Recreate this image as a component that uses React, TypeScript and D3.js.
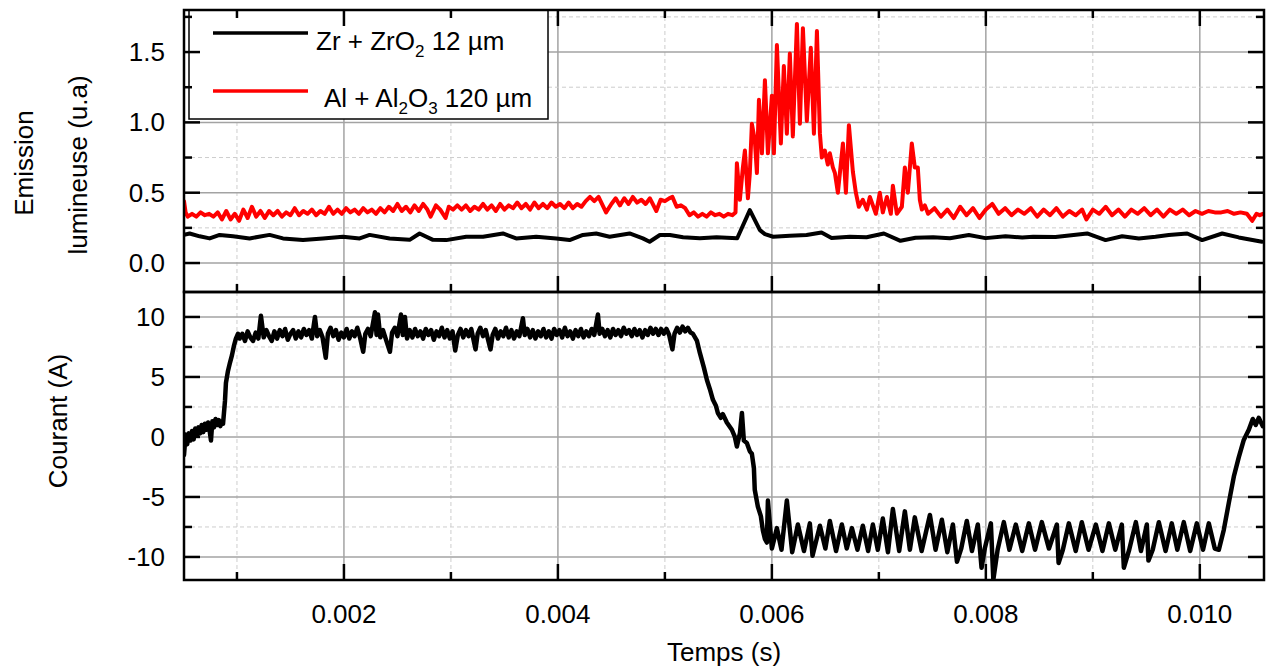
import React from 'react';
import * as d3 from 'd3';

const W = 1269;
const H = 668;

// ---- axis ticks ----
const xTickValues = [0.002, 0.004, 0.006, 0.008, 0.01];
const xMinorTickValues = [0.001, 0.003, 0.005, 0.007, 0.009];
const topYTicks = [0, 0.5, 1.0, 1.5];
const topYMinorTicks = [0.25, 0.75, 1.25, 1.75];
const botYTicks = [-10, -5, 0, 5, 10];
const botYMinorTicks = [-7.5, -2.5, 2.5, 7.5];

// ---- data: [time (ms), value] ----
const emissionZr: [number, number][] = [
  [0.505, 0.2], [0.558, 0.21], [0.651, 0.19], [0.745, 0.175], [0.838, 0.2], [0.963, 0.19],
  [1.118, 0.175], [1.305, 0.2], [1.43, 0.175], [1.617, 0.163], [1.804, 0.175], [1.99, 0.187],
  [2.147, 0.175], [2.24, 0.2], [2.427, 0.175], [2.614, 0.165], [2.707, 0.21], [2.832, 0.165],
  [2.956, 0.163], [3.143, 0.187], [3.3, 0.187], [3.486, 0.21], [3.61, 0.175], [3.797, 0.187],
  [3.984, 0.175], [4.109, 0.163], [4.234, 0.2], [4.358, 0.21], [4.483, 0.187], [4.67, 0.21],
  [4.794, 0.175], [4.857, 0.151], [4.953, 0.199], [5.047, 0.199], [5.17, 0.183], [5.327, 0.176],
  [5.483, 0.183], [5.676, 0.176], [5.794, 0.376], [5.888, 0.234], [5.935, 0.206], [6.012, 0.187],
  [6.168, 0.194], [6.324, 0.199], [6.464, 0.217], [6.558, 0.178], [6.729, 0.187], [6.885, 0.183],
  [7.047, 0.21], [7.202, 0.158], [7.343, 0.18], [7.508, 0.183], [7.664, 0.176], [7.841, 0.199],
  [7.997, 0.177], [8.184, 0.19], [8.34, 0.182], [8.442, 0.187], [8.651, 0.185], [8.947, 0.21],
  [9.119, 0.163], [9.274, 0.19], [9.43, 0.175], [9.586, 0.187], [9.71, 0.2], [9.882, 0.21],
  [10.022, 0.163], [10.209, 0.21], [10.364, 0.182], [10.582, 0.151],
];

const emissionAl: [number, number][] = [
  [0.505, 0.44], [0.52, 0.36], [0.54, 0.33], [0.58, 0.35], [0.62, 0.33], [0.66, 0.36], [0.7, 0.34],
  [0.74, 0.35], [0.78, 0.33], [0.82, 0.36], [0.86, 0.31], [0.9, 0.37], [0.94, 0.31], [0.98, 0.35],
  [1.02, 0.3], [1.06, 0.38], [1.1, 0.32], [1.14, 0.4], [1.18, 0.33], [1.22, 0.37], [1.26, 0.32],
  [1.3, 0.37], [1.34, 0.34], [1.38, 0.37], [1.42, 0.33], [1.46, 0.36], [1.5, 0.34], [1.54, 0.39],
  [1.58, 0.34], [1.62, 0.37], [1.66, 0.35], [1.7, 0.38], [1.74, 0.34], [1.78, 0.37], [1.82, 0.35],
  [1.86, 0.4], [1.9, 0.35], [1.94, 0.38], [1.98, 0.35], [2.02, 0.39], [2.06, 0.36], [2.1, 0.38],
  [2.14, 0.35], [2.18, 0.39], [2.22, 0.36], [2.26, 0.38], [2.3, 0.35], [2.34, 0.39], [2.38, 0.36],
  [2.42, 0.4], [2.46, 0.37], [2.5, 0.42], [2.54, 0.37], [2.58, 0.4], [2.62, 0.36], [2.66, 0.41],
  [2.7, 0.37], [2.74, 0.42], [2.78, 0.38], [2.81, 0.33], [2.86, 0.41], [2.9, 0.38], [2.95, 0.32],
  [2.98, 0.4], [3.02, 0.38], [3.06, 0.41], [3.1, 0.38], [3.14, 0.41], [3.18, 0.37], [3.22, 0.4],
  [3.26, 0.38], [3.3, 0.42], [3.34, 0.38], [3.38, 0.41], [3.42, 0.37], [3.46, 0.42], [3.5, 0.38],
  [3.54, 0.41], [3.58, 0.39], [3.62, 0.43], [3.66, 0.39], [3.7, 0.42], [3.74, 0.38], [3.78, 0.43],
  [3.82, 0.39], [3.86, 0.42], [3.9, 0.39], [3.94, 0.43], [3.98, 0.4], [4.02, 0.42], [4.06, 0.39],
  [4.1, 0.43], [4.14, 0.39], [4.18, 0.42], [4.22, 0.4], [4.26, 0.44], [4.3, 0.47], [4.34, 0.44],
  [4.38, 0.47], [4.45, 0.36], [4.5, 0.42], [4.54, 0.46], [4.58, 0.41], [4.62, 0.46], [4.66, 0.42],
  [4.7, 0.47], [4.74, 0.43], [4.78, 0.45], [4.82, 0.42], [4.86, 0.46], [4.92, 0.37], [4.96, 0.45],
  [5.0, 0.44], [5.04, 0.46], [5.07, 0.47], [5.11, 0.4], [5.15, 0.41], [5.19, 0.39], [5.23, 0.34],
  [5.27, 0.36], [5.31, 0.33], [5.35, 0.35], [5.39, 0.33], [5.43, 0.36], [5.47, 0.34], [5.51, 0.35],
  [5.55, 0.33], [5.59, 0.35], [5.63, 0.34], [5.66, 0.36],
  [5.673, 0.71], [5.701, 0.45], [5.729, 0.68], [5.748, 0.8], [5.776, 0.46], [5.794, 0.64],
  [5.813, 0.99], [5.841, 0.87], [5.86, 0.64], [5.879, 1.16], [5.907, 0.78], [5.935, 1.3],
  [5.963, 0.78], [6.0, 1.19], [6.019, 0.78], [6.047, 1.55], [6.084, 0.85], [6.112, 1.4],
  [6.14, 0.92], [6.168, 1.49], [6.196, 0.9], [6.234, 1.7], [6.262, 0.99], [6.29, 1.67],
  [6.327, 1.01], [6.364, 1.53], [6.393, 0.92], [6.421, 1.65], [6.449, 0.92], [6.467, 0.75],
  [6.495, 0.8], [6.523, 0.7], [6.542, 0.78], [6.57, 0.68], [6.589, 0.64], [6.617, 0.5],
  [6.664, 0.85], [6.692, 0.5], [6.72, 0.98], [6.757, 0.65], [6.785, 0.5], [6.813, 0.4],
  [6.85, 0.45], [6.888, 0.38], [6.916, 0.47], [6.944, 0.41], [6.972, 0.35], [7.009, 0.5],
  [7.037, 0.36], [7.075, 0.47], [7.112, 0.35], [7.131, 0.55], [7.168, 0.35], [7.215, 0.4],
  [7.243, 0.68], [7.271, 0.5], [7.308, 0.85], [7.336, 0.68], [7.364, 0.68], [7.383, 0.45],
  [7.402, 0.38], [7.43, 0.41],
  [7.46, 0.35], [7.52, 0.39], [7.58, 0.33], [7.64, 0.38], [7.7, 0.32], [7.76, 0.4], [7.82, 0.34],
  [7.88, 0.39], [7.94, 0.32], [8.0, 0.38], [8.06, 0.42], [8.12, 0.35], [8.18, 0.39], [8.24, 0.34],
  [8.3, 0.38], [8.36, 0.35], [8.42, 0.39], [8.48, 0.33], [8.54, 0.38], [8.6, 0.34], [8.66, 0.39],
  [8.72, 0.33], [8.78, 0.37], [8.84, 0.34], [8.9, 0.38], [8.94, 0.31], [9.0, 0.38], [9.06, 0.35],
  [9.12, 0.4], [9.18, 0.34], [9.24, 0.38], [9.3, 0.33], [9.36, 0.38], [9.42, 0.35], [9.48, 0.39],
  [9.54, 0.34], [9.6, 0.38], [9.66, 0.33], [9.72, 0.38], [9.78, 0.35], [9.84, 0.38], [9.9, 0.34],
  [9.96, 0.37], [10.02, 0.35], [10.08, 0.37], [10.14, 0.36], [10.2, 0.36], [10.26, 0.37],
  [10.32, 0.35], [10.38, 0.36], [10.44, 0.35], [10.49, 0.3], [10.53, 0.35], [10.56, 0.34],
  [10.59, 0.35],
];

const courant: [number, number][] = [
  [0.505, -1.5], [0.52, 0.2], [0.535, -0.6], [0.55, 0.3], [0.565, -0.3], [0.58, 0.5], [0.595, -0.2],
  [0.61, 0.7], [0.625, 0.1], [0.64, 0.8], [0.655, 0.3], [0.67, 1.0], [0.685, 0.4], [0.7, 1.1],
  [0.715, 0.6], [0.73, 1.2], [0.745, 0.5], [0.757, -0.3], [0.77, 1.3], [0.785, 0.8], [0.8, 1.5],
  [0.815, 1.0], [0.83, 1.4], [0.845, 0.9], [0.86, 1.3], [0.87, 1.1], [0.888, 3.0], [0.897, 4.5],
  [0.916, 5.5], [0.935, 6.2], [0.953, 6.8], [0.972, 7.6], [0.99, 8.2], [1.01, 8.6],
  [1.025, 8.2], [1.05, 8.6], [1.075, 8.0], [1.1, 8.8], [1.125, 8.3], [1.15, 8.0], [1.175, 8.7],
  [1.2, 8.2], [1.224, 10.1], [1.25, 8.3], [1.275, 8.9], [1.3, 8.4], [1.325, 8.0], [1.35, 8.8],
  [1.375, 8.2], [1.4, 8.9], [1.425, 8.4], [1.45, 9.0], [1.475, 8.1], [1.5, 8.6], [1.525, 8.9],
  [1.55, 8.2], [1.575, 8.8], [1.6, 8.3], [1.625, 9.0], [1.65, 8.5], [1.675, 8.9], [1.7, 8.2],
  [1.729, 10.0], [1.75, 8.4], [1.775, 8.9], [1.8, 8.3], [1.83, 6.6], [1.85, 8.6], [1.875, 9.1],
  [1.9, 8.4], [1.925, 8.9], [1.95, 8.1], [1.975, 8.7], [2.0, 8.3], [2.025, 9.0], [2.05, 8.2],
  [2.075, 8.8], [2.1, 8.4], [2.125, 9.1], [2.15, 8.3], [2.18, 7.1], [2.2, 8.6], [2.225, 9.0],
  [2.25, 8.4], [2.29, 10.4], [2.305, 8.5], [2.318, 10.2], [2.34, 8.3], [2.365, 8.9], [2.39, 8.2],
  [2.43, 7.1], [2.45, 8.7], [2.475, 9.1], [2.5, 8.4], [2.533, 10.2], [2.55, 8.5], [2.57, 10.0],
  [2.59, 8.2], [2.615, 8.9], [2.64, 8.3], [2.665, 9.0], [2.69, 8.4], [2.715, 8.8], [2.74, 8.2],
  [2.765, 9.0], [2.79, 8.5], [2.815, 8.9], [2.84, 8.1], [2.865, 8.8], [2.89, 8.4], [2.915, 9.1],
  [2.94, 8.3], [2.965, 8.9], [2.99, 8.2], [3.015, 8.8], [3.04, 7.2], [3.065, 8.5], [3.09, 9.0],
  [3.115, 8.3], [3.14, 8.9], [3.165, 8.4], [3.19, 9.0], [3.23, 7.3], [3.25, 8.6], [3.275, 9.1],
  [3.3, 8.4], [3.325, 8.9], [3.37, 7.3], [3.39, 8.5], [3.415, 9.0], [3.44, 8.2], [3.465, 8.8],
  [3.49, 8.4], [3.515, 9.1], [3.54, 8.3], [3.565, 8.9], [3.59, 8.2], [3.615, 8.8], [3.64, 8.4],
  [3.673, 9.9], [3.69, 8.5], [3.715, 9.0], [3.74, 8.3], [3.765, 8.9], [3.79, 8.2], [3.815, 8.8],
  [3.84, 8.4], [3.865, 9.0], [3.89, 8.3], [3.915, 8.8], [3.94, 8.2], [3.965, 9.0], [3.99, 8.5],
  [4.015, 8.9], [4.04, 8.3], [4.065, 9.1], [4.09, 8.4], [4.115, 8.8], [4.14, 8.2], [4.165, 8.9],
  [4.19, 8.4], [4.215, 9.0], [4.24, 8.3], [4.265, 8.8], [4.29, 8.4], [4.315, 9.0], [4.34, 8.5],
  [4.374, 10.2], [4.39, 8.6], [4.415, 9.0], [4.44, 8.4], [4.465, 8.9], [4.49, 8.3], [4.515, 9.0],
  [4.54, 8.5], [4.565, 8.9], [4.59, 8.4], [4.615, 9.1], [4.64, 8.6], [4.665, 8.9], [4.69, 8.4],
  [4.715, 9.0], [4.74, 8.5], [4.765, 8.9], [4.79, 8.3], [4.815, 8.9], [4.84, 8.5], [4.865, 9.1],
  [4.89, 8.6], [4.915, 9.0], [4.94, 8.5], [4.965, 9.0], [4.99, 8.6], [5.015, 9.0], [5.04, 8.5],
  [5.07, 7.3], [5.09, 8.6], [5.115, 9.1], [5.14, 8.7], [5.165, 9.2], [5.19, 8.8], [5.215, 9.1],
  [5.24, 8.7], [5.262, 8.6],
  [5.3, 8.0], [5.327, 7.0], [5.364, 5.8], [5.393, 4.75], [5.42, 4.0], [5.449, 3.1], [5.477, 2.6],
  [5.495, 2.0], [5.523, 1.6], [5.542, 1.9], [5.579, 1.2], [5.626, 0.6], [5.654, 0.0],
  [5.673, -0.8], [5.701, 0.3], [5.72, 2.0], [5.738, -0.3], [5.766, -0.5], [5.794, -1.2],
  [5.813, -1.4], [5.832, -2.6], [5.84, -4.4], [5.869, -5.8], [5.897, -6.6], [5.916, -7.8],
  [5.935, -8.5], [5.953, -8.8],
  [5.963, -5.3], [6.0, -9.3], [6.047, -7.6], [6.09, -9.4], [6.14, -5.3], [6.19, -9.6],
  [6.243, -7.3], [6.3, -9.5], [6.355, -7.2], [6.38, -9.9], [6.449, -7.4], [6.5, -9.3],
  [6.542, -7.0], [6.6, -9.5], [6.654, -7.3], [6.7, -9.3], [6.748, -7.6], [6.8, -9.4],
  [6.85, -7.4], [6.9, -9.5], [6.944, -7.3], [6.99, -9.4], [7.037, -6.8], [7.085, -9.6],
  [7.131, -6.0], [7.19, -9.5], [7.243, -6.2], [7.29, -9.4], [7.336, -6.7], [7.4, -9.5],
  [7.477, -6.5], [7.53, -9.4], [7.589, -6.9], [7.64, -9.6], [7.692, -7.3], [7.73, -10.4],
  [7.77, -9.3], [7.822, -7.0], [7.87, -9.5], [7.925, -7.3], [7.96, -10.9], [7.99, -9.3],
  [8.047, -7.2], [8.07, -11.9], [8.11, -9.4], [8.168, -7.1], [8.22, -9.4], [8.28, -7.3],
  [8.34, -9.5], [8.402, -7.2], [8.46, -9.4], [8.523, -7.1], [8.59, -9.3], [8.664, -7.3],
  [8.68, -10.5], [8.72, -9.4], [8.776, -7.2], [8.84, -9.5], [8.897, -7.1], [8.96, -9.4],
  [9.028, -7.3], [9.09, -9.5], [9.15, -7.2], [9.21, -9.4], [9.271, -7.3], [9.29, -10.9],
  [9.34, -9.4], [9.402, -7.1], [9.45, -9.5], [9.505, -7.3], [9.52, -10.3], [9.56, -9.4],
  [9.617, -7.1], [9.68, -9.5], [9.738, -7.2], [9.79, -9.4], [9.85, -7.1], [9.91, -9.5],
  [9.972, -7.2], [10.03, -9.4], [10.084, -7.2], [10.14, -9.3], [10.178, -9.4],
  [10.224, -7.75], [10.271, -5.5], [10.318, -3.3], [10.364, -1.7], [10.411, -0.25],
  [10.458, 0.6], [10.495, 1.5], [10.523, 1.0], [10.551, 1.6], [10.589, 0.9],
];

// ---- layout ----
const L = 184;
const R = 1264;
const T1 = 10;
const B1 = 292;
const T2 = 292;
const B2 = 580;
const FONT = '"Liberation Sans", Arial, Helvetica, sans-serif';
const MAJ = 16;
const MIN = 8;

export default function App() {
  const x = d3.scaleLinear().domain([0.000505, 0.0106]).range([L, R]);
  const yTop = d3.scaleLinear().domain([-0.206, 1.799]).range([B1, T1]);
  const yBot = d3.scaleLinear().domain([-11.92, 12.08]).range([B2, T2]);

  const lineTop = d3
    .line<[number, number]>()
    .x((d) => x(d[0] / 1000))
    .y((d) => yTop(d[1]));
  const lineBot = d3
    .line<[number, number]>()
    .x((d) => x(d[0] / 1000))
    .y((d) => yBot(d[1]));

  const gridSolid = '#a3a3a3';
  const gridDash = '#cdcdcd';

  const vGrid = (top: number, bottom: number, key: string) => (
    <g key={key}>
      {xMinorTickValues.map((v) => (
        <line key={'m' + v} x1={x(v)} x2={x(v)} y1={top} y2={bottom} stroke={gridDash} strokeWidth={1} strokeDasharray="4,3" />
      ))}
      {xTickValues.map((v) => (
        <line key={'M' + v} x1={x(v)} x2={x(v)} y1={top} y2={bottom} stroke={gridSolid} strokeWidth={1.5} />
      ))}
    </g>
  );

  const hGrid = (ticks: number[], minor: number[], scale: d3.ScaleLinear<number, number>, key: string) => (
    <g key={key}>
      {minor.map((v) => (
        <line key={'m' + v} x1={L} x2={R} y1={scale(v)} y2={scale(v)} stroke={gridDash} strokeWidth={1} strokeDasharray="4,3" />
      ))}
      {ticks.map((v) => (
        <line key={'M' + v} x1={L} x2={R} y1={scale(v)} y2={scale(v)} stroke={gridSolid} strokeWidth={1.5} />
      ))}
    </g>
  );

  const yTicksMarks = (ticks: number[], minor: number[], scale: d3.ScaleLinear<number, number>, key: string) => (
    <g key={key} stroke="#000" strokeWidth={2.5}>
      {ticks.map((v) => (
        <g key={'M' + v}>
          <line x1={L} x2={L + MAJ} y1={scale(v)} y2={scale(v)} />
          <line x1={R} x2={R - MAJ} y1={scale(v)} y2={scale(v)} />
        </g>
      ))}
      {minor.map((v) => (
        <g key={'m' + v}>
          <line x1={L} x2={L + MIN} y1={scale(v)} y2={scale(v)} />
          <line x1={R} x2={R - MIN} y1={scale(v)} y2={scale(v)} />
        </g>
      ))}
    </g>
  );

  const xTickMarks = (yEdge: number, dir: number, key: string) => (
    <g key={key} stroke="#000" strokeWidth={2.5}>
      {xTickValues.map((v) => (
        <line key={'M' + v} x1={x(v)} x2={x(v)} y1={yEdge} y2={yEdge + dir * MAJ} />
      ))}
      {xMinorTickValues.map((v) => (
        <line key={'m' + v} x1={x(v)} x2={x(v)} y1={yEdge} y2={yEdge + dir * MIN} />
      ))}
    </g>
  );

  const topFmt = d3.format('.1f');
  const xFmt = d3.format('.3f');

  return (
    <svg width={W} height={H} style={{ position: 'absolute', left: 0, top: 0, background: '#fff' }} fontFamily={FONT}>
      <defs>
        <clipPath id="clipTop">
          <rect x={L} y={T1} width={R - L} height={B1 - T1} />
        </clipPath>
        <clipPath id="clipBot">
          <rect x={L} y={T2} width={R - L} height={B2 - T2} />
        </clipPath>
      </defs>
      <rect x={0} y={0} width={W} height={H} fill="#fff" />

      {/* grids */}
      {vGrid(T1, B1, 'vg1')}
      {vGrid(T2, B2, 'vg2')}
      {hGrid(topYTicks, topYMinorTicks, yTop, 'hg1')}
      {hGrid(botYTicks, botYMinorTicks, yBot, 'hg2')}

      {/* data */}
      <g clipPath="url(#clipTop)" fill="none" strokeLinejoin="round" strokeLinecap="round">
        <path d={lineTop(emissionAl) || ''} stroke="#ff0000" strokeWidth={4} />
        <path d={lineTop(emissionZr) || ''} stroke="#000" strokeWidth={4} />
      </g>
      <g clipPath="url(#clipBot)" fill="none" strokeLinejoin="round" strokeLinecap="round">
        <path d={lineBot(courant) || ''} stroke="#000" strokeWidth={4.5} />
      </g>

      {/* legend */}
      <g>
        <rect x={189} y={10} width={359} height={109} fill="#fff" stroke="#000" strokeWidth={1.5} />
        <line x1={213} x2={308} y1={33} y2={33} stroke="#000" strokeWidth={3.5} />
        <line x1={213} x2={308} y1={91} y2={91} stroke="#ff0000" strokeWidth={3.5} />
        <text x={316} y={50} fontSize={26} fill="#000">
          Zr + ZrO
          <tspan fontSize={17} dy={7}>2</tspan>
          <tspan dy={-7}> 12 µm</tspan>
        </text>
        <text x={324} y={107} fontSize={26} fill="#000">
          Al + Al
          <tspan fontSize={17} dy={7}>2</tspan>
          <tspan dy={-7}>O</tspan>
          <tspan fontSize={17} dy={7}>3</tspan>
          <tspan dy={-7}> 120 µm</tspan>
        </text>
      </g>

      {/* frames */}
      <rect x={L} y={T1} width={R - L} height={B1 - T1} fill="none" stroke="#000" strokeWidth={2.5} />
      <rect x={L} y={T2} width={R - L} height={B2 - T2} fill="none" stroke="#000" strokeWidth={2.5} />

      {/* ticks */}
      {yTicksMarks(topYTicks, topYMinorTicks, yTop, 'yt1')}
      {yTicksMarks(botYTicks, botYMinorTicks, yBot, 'yt2')}
      {xTickMarks(T1, 1, 'xt1')}
      {xTickMarks(B1, -1, 'xt2')}
      {xTickMarks(B2, -1, 'xt3')}

      {/* tick labels */}
      <g fontSize={26} fill="#000" textAnchor="end">
        {topYTicks.map((v) => (
          <text key={v} x={165} y={yTop(v) + 9}>
            {topFmt(v)}
          </text>
        ))}
        {botYTicks.map((v) => (
          <text key={v} x={165} y={yBot(v) + 9}>
            {String(v)}
          </text>
        ))}
      </g>
      <g fontSize={26} fill="#000" textAnchor="middle">
        {xTickValues.map((v) => (
          <text key={v} x={x(v)} y={623}>
            {xFmt(v)}
          </text>
        ))}
      </g>

      {/* axis titles */}
      <g fontSize={26} fill="#000" textAnchor="middle">
        <text transform="translate(33,163) rotate(-90)">Emission</text>
        <text transform="translate(87,165) rotate(-90)">lumineuse (u.a)</text>
        <text transform="translate(67,421) rotate(-90)">Courant (A)</text>
        <text x={(L + R) / 2} y={661}>Temps (s)</text>
      </g>
    </svg>
  );
}
